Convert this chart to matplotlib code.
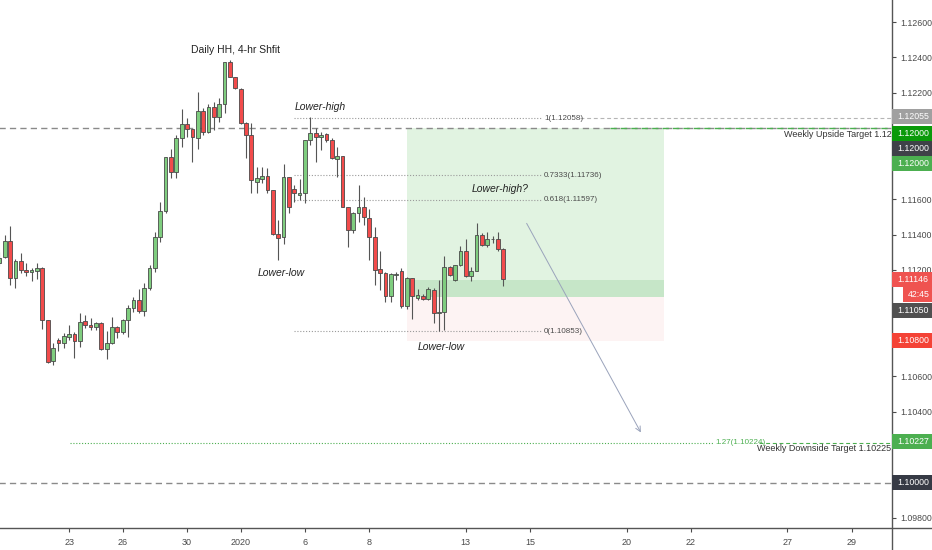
import matplotlib
matplotlib.use("Agg")
import matplotlib.pyplot as plt
import numpy as np
from matplotlib.patches import Rectangle
from matplotlib.lines import Line2D
from matplotlib.transforms import blended_transform_factory

plt.rcParams["font.family"] = ["Liberation Sans", "DejaVu Sans"]

# 4-hour candles (oldest first)
opens = [1.11240, 1.11272, 1.11366, 1.11155, 1.11251, 1.11200, 1.11189, 1.11196, 1.11211, 1.10918,
         1.10686, 1.10805, 1.10789, 1.10822, 1.10840, 1.10800, 1.10911, 1.10889, 1.10878, 1.10900,
         1.10752, 1.10788, 1.10880, 1.10850, 1.10918, 1.10986, 1.11029, 1.10967, 1.11098, 1.11210,
         1.11387, 1.11534, 1.11836, 1.11755, 1.11943, 1.12024, 1.11994, 1.11945, 1.12099, 1.11981,
         1.12122, 1.12065, 1.12137, 1.12376, 1.12288, 1.12222, 1.12032, 1.11962, 1.11698, 1.11713,
         1.11728, 1.11652, 1.11403, 1.11385, 1.11724, 1.11656, 1.11626, 1.11633, 1.11934, 1.11975,
         1.11953, 1.11967, 1.11934, 1.11825, 1.11843, 1.11557, 1.11426, 1.11523, 1.11557, 1.11491,
         1.11385, 1.11204, 1.11181, 1.11053, 1.11172, 1.11192, 1.10997, 1.11153, 1.11044, 1.11055,
         1.11038, 1.11085, 1.10958, 1.10962, 1.11219, 1.11146, 1.11227, 1.11309, 1.11165, 1.11197,
         1.11398, 1.11341, 1.11373, 1.11376, 1.11316]
highs = [1.11300, 1.11398, 1.11449, 1.11260, 1.11298, 1.11241, 1.11210, 1.11240, 1.11215, 1.10920,
         1.10788, 1.10816, 1.10845, 1.10888, 1.10848, 1.10958, 1.10945, 1.10928, 1.10905, 1.10905,
         1.10856, 1.10935, 1.10883, 1.10925, 1.11003, 1.11050, 1.11094, 1.11126, 1.11228, 1.11416,
         1.11585, 1.11838, 1.11883, 1.11962, 1.12107, 1.12057, 1.11994, 1.12206, 1.12113, 1.12137,
         1.12150, 1.12169, 1.12376, 1.12385, 1.12291, 1.12226, 1.12037, 1.12032, 1.11783, 1.11779,
         1.11775, 1.11652, 1.11482, 1.11799, 1.11727, 1.11680, 1.11711, 1.11934, 1.12066, 1.12000,
         1.11981, 1.11975, 1.11943, 1.11896, 1.11843, 1.11557, 1.11529, 1.11680, 1.11613, 1.11547,
         1.11444, 1.11308, 1.11190, 1.11185, 1.11190, 1.11211, 1.11162, 1.11153, 1.11095, 1.11067,
         1.11103, 1.11100, 1.11142, 1.11281, 1.11225, 1.11230, 1.11334, 1.11377, 1.11215, 1.11467,
         1.11407, 1.11416, 1.11392, 1.11416, 1.11325]
lows = [1.11220, 1.11270, 1.11115, 1.11098, 1.11183, 1.11166, 1.11138, 1.11150, 1.10867, 1.10675,
        1.10664, 1.10743, 1.10760, 1.10805, 1.10702, 1.10766, 1.10873, 1.10860, 1.10860, 1.10747,
        1.10697, 1.10783, 1.10815, 1.10838, 1.10822, 1.10964, 1.10955, 1.10941, 1.11086, 1.11190,
        1.11360, 1.11522, 1.11719, 1.11717, 1.11896, 1.11952, 1.11811, 1.11881, 1.11962, 1.11972,
        1.11990, 1.12037, 1.12085, 1.12287, 1.12221, 1.12024, 1.11831, 1.11633, 1.11633, 1.11690,
        1.11633, 1.11398, 1.11257, 1.11349, 1.11520, 1.11586, 1.11595, 1.11577, 1.11906, 1.11811,
        1.11877, 1.11924, 1.11825, 1.11726, 1.11553, 1.11332, 1.11411, 1.11472, 1.11453, 1.11257,
        1.11115, 1.11087, 1.11020, 1.11020, 1.11142, 1.10984, 1.10978, 1.10926, 1.11032, 1.11030,
        1.11032, 1.10902, 1.10853, 1.10864, 1.11168, 1.11140, 1.11222, 1.11160, 1.11137, 1.11194,
        1.11334, 1.11331, 1.11354, 1.11306, 1.11108]
closes = [1.11268, 1.11366, 1.11155, 1.11251, 1.11200, 1.11189, 1.11200, 1.11211, 1.10918, 1.10682,
          1.10760, 1.10789, 1.10828, 1.10840, 1.10800, 1.10907, 1.10892, 1.10878, 1.10900, 1.10752,
          1.10788, 1.10880, 1.10849, 1.10918, 1.10986, 1.11031, 1.10967, 1.11098, 1.11210, 1.11385,
          1.11534, 1.11836, 1.11755, 1.11943, 1.12024, 1.11994, 1.11949, 1.12099, 1.11981, 1.12122,
          1.12065, 1.12137, 1.12376, 1.12291, 1.12226, 1.12032, 1.11962, 1.11708, 1.11717, 1.11728,
          1.11652, 1.11403, 1.11379, 1.11727, 1.11557, 1.11633, 1.11633, 1.11934, 1.11975, 1.11953,
          1.11964, 1.11934, 1.11830, 1.11843, 1.11557, 1.11426, 1.11523, 1.11557, 1.11497, 1.11385,
          1.11200, 1.11185, 1.11053, 1.11178, 1.11178, 1.10997, 1.11153, 1.11053, 1.11061, 1.11038,
          1.11090, 1.10958, 1.10962, 1.11219, 1.11174, 1.11227, 1.11309, 1.11165, 1.11197, 1.11398,
          1.11341, 1.11373, 1.11376, 1.11316, 1.11150]

date_ticks = [13, 23, 35, 45, 57, 69, 87, 99, 117, 129, 147, 159]
date_labels = ["23", "26", "30", "2020", "6", "8", "13", "15", "20", "22", "27", "29"]

price_ticks = [1.098, 1.100, 1.102, 1.104, 1.106, 1.108, 1.110, 1.112,
               1.114, 1.116, 1.118, 1.120, 1.122, 1.124, 1.126]
# these tick labels sit fully under price tags on the reference
hidden_ticks = [1.100, 1.102, 1.108, 1.110, 1.118, 1.120]

fib_names = ["1", "0.7333", "0.618", "0"]
fib_prices = [1.12058, 1.11736, 1.11597, 1.10853]
ext_name = "1.27"
ext_price = 1.10224

upside_target = 1.12000
downside_target = 1.10225
round_level = 1.10000

entry_price = 1.11050
stop_price = 1.10800
target_price = 1.12000
last_price = 1.11146

W, H = 932, 550
fig = plt.figure(figsize=(W / 100, H / 100), dpi=100)
fig.patch.set_facecolor("white")
ax = fig.add_axes([0, 22 / H, 892 / W, 528 / H])
ax.set_xlim(0.11, 166.5)
ax.set_ylim(1.097435, 1.127242)

# long position box
ax.add_patch(Rectangle((76, entry_price), 48, target_price - entry_price,
                       fc="#e1f3e1", ec="none", zorder=1))
ax.add_patch(Rectangle((76, entry_price), 48, last_price - entry_price,
                       fc="#c6e6c8", ec="none", zorder=1))
ax.add_patch(Rectangle((76, stop_price), 48, entry_price - stop_price,
                       fc="#fdf3f3", ec="none", zorder=1))

# candles
o = np.array(opens)
h = np.array(highs)
l = np.array(lows)
c = np.array(closes)
x = np.arange(len(o))
up = c >= o
body_lo = np.minimum(o, c)
body_h = np.maximum(np.abs(c - o), 0.000015)
colors = np.where(up, "#7fcd7f", "#f24b4b")
ax.vlines(x, l, h, color="#555555", lw=0.8, zorder=3)
ax.bar(x, body_h, bottom=body_lo, width=0.7, color=colors,
       edgecolor="#4a4a4a", linewidth=0.6, zorder=4)

# horizontal levels
xmax = ax.get_xlim()[1]
ax.hlines(upside_target, 0, xmax, color="#8a8a8a", lw=1, linestyle=(0, (4.5, 3)), zorder=2)
ax.hlines(upside_target, 113.9, xmax, color="#4caf50", lw=1, linestyle=(0, (4.5, 3)), zorder=2)
ax.hlines(round_level, 0, xmax, color="#8a8a8a", lw=1, linestyle=(0, (4.5, 3)), zorder=2)

for name, p in zip(fib_names, fib_prices):
    ax.hlines(p, 55, 101.2, color="#9a9a9a", lw=0.8, linestyle=(0, (1, 1.6)), zorder=2)
    ax.text(101.6, p, f"{name}({p:.5f})", fontsize=5.8, color="#4a4a4a",
            va="center", ha="left", zorder=6)
ax.hlines(fib_prices[0], 108.3, xmax, color="#b5b5b5", lw=0.8,
          linestyle=(0, (3.5, 2.5)), zorder=2)

ax.hlines(ext_price, 13.2, 133.1, color="#4caf50", lw=0.8, linestyle=(0, (1, 1.6)), zorder=2)
ax.hlines(ext_price, 141.7, xmax, color="#4caf50", lw=0.8, linestyle=(0, (3.5, 2.5)), zorder=2)
ax.text(133.5, ext_price, f"{ext_name}({ext_price:.5f})", fontsize=5.8, color="#4caf50",
        va="center", ha="left", zorder=6)

# target notes end at the price scale (the upside one is cut there on the chart)
yx = blended_transform_factory(ax.transAxes, ax.transData)
ax.text(0.9995, upside_target - 0.00034, f"Weekly Upside Target {upside_target:.2f}",
        fontsize=6.5, color="#333333", va="center", ha="right", transform=yx, zorder=6)
ax.text(0.9995, downside_target - 0.00030, f"Weekly Downside Target {downside_target:.5f}",
        fontsize=6.5, color="#333333", va="center", ha="right", transform=yx, zorder=6)

# projection arrow
ax.annotate("", xy=(119.9, 1.10269), xytext=(98.1, 1.11477),
            arrowprops=dict(arrowstyle="->", color="#9aa3bb", lw=0.7,
                            mutation_scale=9), zorder=5)

# notes
ax.text(44, 1.12442, "Daily HH, 4-hr Shfit", fontsize=7.5, ha="center", va="center",
        color="#222222", zorder=6)
ax.text(59.8, 1.12120, "Lower-high", fontsize=7.5, style="italic", ha="center",
        va="center", color="#222222", zorder=6)
ax.text(52.5, 1.11183, "Lower-low", fontsize=7.5, style="italic", ha="center",
        va="center", color="#222222", zorder=6)
ax.text(93.4, 1.11657, "Lower-high?", fontsize=7.5, style="italic", ha="center",
        va="center", color="#222222", zorder=6)
ax.text(82.4, 1.10765, "Lower-low", fontsize=7.5, style="italic", ha="center",
        va="center", color="#222222", zorder=6)

# axes styling
for side in ("top", "left", "right", "bottom"):
    ax.spines[side].set_visible(False)
ax.yaxis.tick_right()
ax.set_yticks(price_ticks)
ax.set_yticklabels(["" if p in hidden_ticks else f"{p:.5f}" for p in price_ticks])
ax.set_xticks(date_ticks)
ax.set_xticklabels(date_labels)
ax.tick_params(axis="y", length=3, width=0.8, labelsize=6.3, colors="#4a4a4a", pad=3)
ax.tick_params(axis="x", length=3, width=0.8, labelsize=6.5, colors="#4a4a4a", pad=4)
ax.grid(False)

fig.add_artist(Line2D([0, 1], [22 / H, 22 / H], color="#555555", lw=1, zorder=4))
fig.add_artist(Line2D([892 / W, 892 / W], [0, 1], color="#555555", lw=1, zorder=4))

# price scale labels (some stacked by TradingView)
price_tags = [
    (1.12055, "1.12055", "#a0a0a0", -2, 892),
    (1.12000, "1.12000", "#0a9a0a", 5, 892),
    (1.12000, "1.12000", "#3f4148", 20, 892),
    (1.12000, "1.12000", "#4caf50", 35, 892),
    (last_price, "1.11146", "#ef5350", 0, 892),
    (last_price, "42:45", "#ef5350", 15, 903),
    (entry_price, "1.11050", "#505050", 14, 892),
    (stop_price, "1.10800", "#f44336", 0, 892),
    (1.10227, "1.10227", "#4caf50", -1, 892),
    (round_level, "1.10000", "#363a45", 0, 892),
]
for p, txt, fc, shift, x0 in price_tags:
    yd = ax.transData.transform((0, p))[1] - shift
    fig.add_artist(Rectangle((x0 / W, (yd - 7.5) / H), (W - x0) / W, 15 / H,
                             transform=fig.transFigure, fc=fc, ec="none", zorder=5))
    fig.text((x0 + (W - x0) / 2 + 1) / W, yd / H, txt, color="white", fontsize=6.3,
             ha="center", va="center", zorder=6)

fig.savefig("out.png", dpi=100, facecolor="white")
plt.close(fig)
